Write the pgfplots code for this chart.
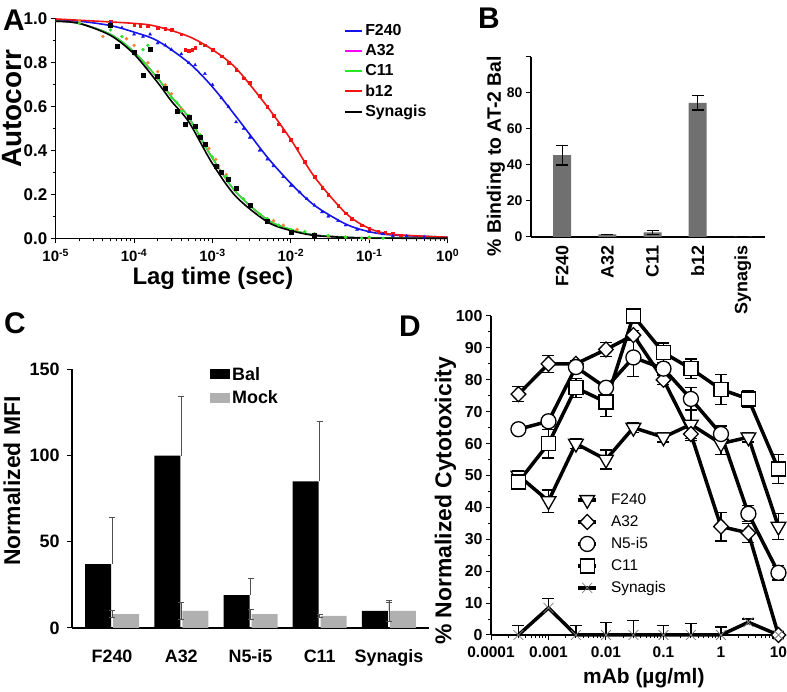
\documentclass[border=0pt]{standalone}
\usepackage{fontspec}
\setmainfont{Liberation Sans}
\usepackage{pgfplots}
\pgfplotsset{compat=1.18}
\definecolor{cblue}{RGB}{20,20,235}
\definecolor{cmag}{RGB}{255,0,255}
\definecolor{cgreen}{RGB}{40,230,40}
\definecolor{cred}{RGB}{240,20,20}
\definecolor{corange}{RGB}{245,130,50}
\definecolor{barB}{RGB}{112,112,112}
\definecolor{mock}{RGB}{176,176,176}
\definecolor{errC}{RGB}{80,80,80}
\newcommand{\fs}[1]{\fontsize{#1}{#1}\selectfont}
\pgfplotsset{
  panel/.style={scale only axis, anchor=south west, axis lines=left,
    axis line style={-, line width=1.3bp},
    tick align=outside, major tick length=5bp, minor tick length=3bp,
    every tick/.style={black, line width=1bp},
    /pgf/number format/assume math mode=true},
}
\begin{document}
\begin{tikzpicture}
\useasboundingbox (0,0) rectangle (787bp,692bp);
% ---------------- Panel A ----------------
\begin{axis}[panel, at={(55.7bp,453.7bp)}, width=392bp, height=219.3bp,
  xmode=log, xmin=1e-5, xmax=1, ymin=0, ymax=1, clip=false,
  xtick={1e-5,1e-4,1e-3,1e-2,1e-1,1},
  xticklabels={10\textsuperscript{-5},10\textsuperscript{-4},10\textsuperscript{-3},10\textsuperscript{-2},10\textsuperscript{-1},10\textsuperscript{0}},
  ytick={0,0.2,0.4,0.6,0.8,1}, yticklabels={0.0,0.2,0.4,0.6,0.8,1.0},
  minor ytick={0.1,0.3,0.5,0.7,0.9},
  x tick label style={font=\bfseries\fs{15}, yshift=-2bp},
  y tick label style={font=\bfseries\fs{17}},
  xlabel={Lag time (sec)}, ylabel={Autocorr},
  x label style={at={(axis description cs:0.401,-0.185)}, anchor=center, font=\bfseries\fs{24}},
  y label style={at={(axis description cs:-0.111,0.59)}, anchor=center, font=\bfseries\fs{28}},
  legend style={at={(rel axis cs:0.728,0.995)}, anchor=north west, draw=none, fill=none,
    font=\bfseries\fs{16}, row sep=3.5bp},
  legend cell align=left,
  legend image code/.code={\draw[#1, line width=2bp] (0bp,0bp) -- (17bp,0bp);},
]
% scatter data
\addplot[only marks, mark=square*, mark size=1.3bp, cred, forget plot] coordinates {
(5e-5,0.99)(1e-4,0.975)(1.2e-4,0.97)(1.5e-4,0.97)(2e-4,0.96)(2.5e-4,0.955)(3e-4,0.95)(4e-4,0.93)(4.5e-4,0.86)(5e-4,0.855)(5.5e-4,0.86)(6e-4,0.87)(7e-4,0.89)(8e-4,0.88)(1e-3,0.86)(1.3e-3,0.83)(1.6e-3,0.80)(2e-3,0.77)(2.5e-3,0.73)(3e-3,0.71)(4e-3,0.65)(5e-3,0.60)(6e-3,0.56)(7e-3,0.52)(8e-3,0.49)(1e-2,0.45)(1.2e-2,0.41)(1.5e-2,0.35)(2e-2,0.28)(2.5e-2,0.23)(3e-2,0.20)(4e-2,0.15)(5e-2,0.115)(6e-2,0.09)(8e-2,0.06)(1e-1,0.045)(1.3e-1,0.03)(1.6e-1,0.025)(2e-1,0.02)(2.5e-1,0.015)};
\addplot[only marks, mark=triangle*, mark size=1.8bp, cblue, forget plot] coordinates {
(5e-5,0.98)(7e-5,0.96)(1e-4,0.93)(1.3e-4,0.92)(1.6e-4,0.93)(2e-4,0.89)(2.5e-4,0.88)(3e-4,0.86)(4e-4,0.84)(5e-4,0.80)(6e-4,0.79)(8e-4,0.75)(1e-3,0.70)(1.3e-3,0.64)(1.6e-3,0.60)(2e-3,0.53)(2.5e-3,0.50)(3e-3,0.46)(4e-3,0.40)(5e-3,0.36)(6e-3,0.33)(8e-3,0.28)(1e-2,0.24)(1.3e-2,0.21)(1.6e-2,0.18)(2e-2,0.15)(2.5e-2,0.12)(3e-2,0.10)(4e-2,0.08)(5e-2,0.06)(7e-2,0.04)(1e-1,0.03)(1.5e-1,0.02)(2e-1,0.01)(3e-1,0.01)(5e-1,0.005)};
\addplot[only marks, mark=*, mark size=1.5bp, corange, forget plot] coordinates {
(2e-5,0.99)(4e-5,0.92)(8e-5,0.91)(1e-4,0.88)(1.5e-4,0.80)(2e-4,0.76)(2.5e-4,0.70)(3e-4,0.66)(4e-4,0.59)(5e-4,0.56)(7e-4,0.47)(9e-4,0.41)(1.1e-3,0.36)(1.5e-3,0.29)(2e-3,0.22)(3e-3,0.15)(4e-3,0.11)(6e-3,0.08)(8e-3,0.06)(1.2e-2,0.04)(2e-2,0.02)(3e-2,0.01)(5e-2,0.005)(1e-1,0.0)};
\addplot[only marks, mark=*, mark size=1.5bp, cgreen, forget plot] coordinates {
(2e-5,0.98)(5e-5,0.95)(7e-5,0.92)(1e-4,0.84)(1.3e-4,0.86)(1.5e-4,0.88)(2e-4,0.73)(2.5e-4,0.68)(3e-4,0.64)(3.5e-4,0.62)(4e-4,0.58)(5e-4,0.56)(6e-4,0.50)(7e-4,0.47)(8e-4,0.42)(1e-3,0.37)(1.2e-3,0.33)(1.5e-3,0.28)(2e-3,0.22)(2.5e-3,0.18)(3e-3,0.15)(4e-3,0.11)(5e-3,0.09)(7e-3,0.06)(1e-2,0.04)(1.5e-2,0.03)(2e-2,0.02)(3e-2,0.012)(5e-2,0.005)(8e-2,0.0)(1e-1,0.005)(1.5e-1,0.0)};
\addplot[only marks, mark=square*, mark size=2bp, black, forget plot] coordinates {
(5e-5,0.97)(6e-5,0.875)(1e-4,0.85)(1.3e-4,0.745)(1.6e-4,0.86)(2e-4,0.74)(2.5e-4,0.685)(3.5e-4,0.58)(4.5e-4,0.52)(5e-4,0.55)(6e-4,0.51)(7e-4,0.46)(8e-4,0.43)(1.1e-3,0.33)(1.3e-3,0.30)(1.6e-3,0.27)(2e-3,0.23)(3e-3,0.15)(5e-3,0.08)(1e-2,0.03)(2e-2,0.012)};
% fit lines
\addplot[cblue, line width=1.6bp, smooth] coordinates {
(1e-5,0.995)(2e-5,0.99)(5e-5,0.97)(1e-4,0.94)(2e-4,0.90)(5e-4,0.80)(1e-3,0.69)(2e-3,0.555)(5e-3,0.37)(1e-2,0.25)(2e-2,0.15)(5e-2,0.065)(1e-1,0.03)(2e-1,0.015)(1,0.005)};
\addlegendentry{F240}
\addplot[cmag, line width=1.6bp, smooth] coordinates {
(1e-5,0.99)(2e-5,0.98)(5e-5,0.93)(1e-4,0.85)(2e-4,0.73)(3e-4,0.645)(5e-4,0.55)(1e-3,0.365)(2e-3,0.21)(5e-3,0.085)(1e-2,0.04)(2e-2,0.015)(5e-2,0.005)(1e-1,0.002)(1,0)};
\addlegendentry{A32}
\addplot[cgreen, line width=1.6bp, smooth] coordinates {
(1e-5,0.99)(2e-5,0.98)(5e-5,0.93)(1e-4,0.85)(2e-4,0.73)(3e-4,0.645)(5e-4,0.55)(1e-3,0.365)(2e-3,0.21)(5e-3,0.085)(1e-2,0.04)(2e-2,0.015)(5e-2,0.005)(1e-1,0.002)(1,0)};
\addlegendentry{C11}
\addplot[cred, line width=1.6bp, smooth] coordinates {
(1e-5,1.0)(1e-4,0.98)(2e-4,0.965)(5e-4,0.92)(1e-3,0.86)(2e-3,0.775)(5e-3,0.60)(1e-2,0.45)(2e-2,0.28)(5e-2,0.115)(1e-1,0.045)(2e-1,0.018)(1,0.005)};
\addlegendentry{b12}
\addplot[black, line width=1.6bp, smooth] coordinates {
(1e-5,0.99)(2e-5,0.98)(5e-5,0.925)(1e-4,0.84)(2e-4,0.71)(3e-4,0.625)(5e-4,0.53)(1e-3,0.34)(2e-3,0.19)(5e-3,0.075)(1e-2,0.035)(2e-2,0.013)(5e-2,0.004)(1e-1,0.001)(1,0)};
\addlegendentry{Synagis}
\end{axis}
% ---------------- Panel B ----------------
\begin{axis}[panel, at={(531bp,455bp)}, width=234bp, height=180bp,
  xmin=-0.69, xmax=4.49, ymin=0, ymax=100, clip=false,
  ytick={0,20,40,60,80,100}, yticklabels={0,20,40,60,80,{}},
  xtick={0,1,2,3,4}, xticklabels={F240,A32,C11,b12,Synagis},
  major x tick style={draw=none},
  y tick label style={font=\bfseries\fs{14}},
  x tick label style={rotate=90, anchor=east, font=\bfseries\fs{18}},
  ylabel={\% Binding to AT-2 Bal},
  y label style={at={(axis description cs:-0.15,0.45)}, anchor=center, font=\bfseries\fs{19.5}},
]
\addplot[ybar, bar width=18bp, fill=barB, draw=none,
  error bars/.cd, y dir=both, y explicit,
  error bar style={line width=1.3bp, black},
  error mark options={rotate=90, mark size=6bp, line width=1.3bp, black}]
  coordinates {(0,45.5) +- (0,5.5) (1,1.5) +- (0,0) (2,2.5) +- (0,1) (3,74.5) +- (0,4) (4,0.2) +- (0,0)};
\end{axis}
% ---------------- Panel C ----------------
\begin{axis}[panel, at={(72bp,64bp)}, width=357bp, height=258.7bp,
  xmin=-0.578, xmax=4.578, ymin=0, ymax=150, clip=false,
  ytick={0,50,100,150},
  xtick={0,1,2,3,4}, xticklabels={F240,A32,N5-i5,C11,Synagis},
  major x tick style={draw=none},
  y tick label style={font=\bfseries\fs{18}, xshift=-4bp},
  x tick label style={font=\bfseries\fs{18}, yshift=-13bp},
  ylabel={Normalized MFI},
  y label style={at={(axis description cs:-0.168,0.568)}, anchor=center, font=\bfseries\fs{23}},
  legend style={at={(rel axis cs:0.378,1.025)}, anchor=north west, draw=none, fill=none,
    font=\bfseries\fs{18}, row sep=5bp},
  legend cell align=left,
  legend image code/.code={\fill[#1] (0bp,-5bp) rectangle (20bp,5bp);},
]
\addplot[ybar, bar width=26bp, bar shift=-14bp, fill=black, draw=none,
  error bars/.cd, y dir=plus, y explicit,
  error bar style={line width=0.8bp, errC},
  error mark options={rotate=90, mark size=3bp, line width=0.8bp, errC}]
  coordinates {(0,37) +- (0,27) (1,100) +- (0,34) (2,19) +- (0,10) (3,85) +- (0,35) (4,10) +- (0,5)};
\addlegendentry{Bal}
\addplot[ybar, bar width=26bp, bar shift=14bp, fill=mock, draw=none,
  error bars/.cd, y dir=both, y explicit,
  error bar style={line width=0.8bp, errC},
  error mark options={rotate=90, mark size=3bp, line width=0.8bp, errC}]
  coordinates {(0,8) +- (0,2) (1,10) +- (0,5) (2,8) +- (0,3) (3,7) +- (0,1) (4,10) +- (0,6)};
\addlegendentry{Mock}
\end{axis}
% ---------------- Panel D ----------------
\begin{axis}[panel, at={(491bp,57bp)}, width=294bp, height=319bp,
  xmode=log, xmin=1e-4, xmax=13, ymin=0, ymax=100, clip=false,
  xtick={1e-4,1e-3,1e-2,1e-1,1,10},
  xticklabels={0.0001,0.001,0.01,0.1,1,10},
  ytick={0,10,...,100}, minor ytick={5,15,...,95},
  x tick label style={font=\bfseries\fs{15.5}, yshift=-3bp},
  y tick label style={font=\bfseries\fs{16}},
  xlabel={mAb (µg/ml)}, ylabel={\% Normalized Cytotoxicity},
  x label style={at={(axis description cs:0.52,-0.135)}, anchor=center, font=\bfseries\fs{21}},
  y label style={at={(axis description cs:-0.155,0.42)}, anchor=center, font=\bfseries\fs{23}},
  legend style={at={(rel axis cs:0.28,0.456)}, anchor=north west, draw=none, fill=none,
    font=\fs{15.5}, row sep=5.5bp},
  legend cell align=left,
  legend image code/.code={\draw[mark repeat=2, mark phase=2, #1] plot coordinates {(0bp,0bp) (9bp,0bp) (18bp,0bp)}; \path (29bp,0bp);},
  every axis plot/.append style={black, line width=3.5bp,
    /pgfplots/error bars/y dir=both, /pgfplots/error bars/y explicit,
    /pgfplots/error bars/error bar style={line width=1.3bp, black},
    /pgfplots/error bars/error mark options={rotate=90, mark size=6bp, line width=1.3bp, black}},
]
\addplot[mark=triangle*, mark size=8.5bp, mark options={rotate=180, fill=white, line width=1.3bp}]
  table[x index=0, y index=1, y error index=2] {
0.0003 50 1.5
0.001 42 3.5
0.003 60 1.5
0.01 55 3
0.03 65 1.5
0.1 62 1.5
0.3 66 4.5
1 60 3.5
3 62 1.5
10 34 4
};
\addlegendentry{F240}
\addplot[mark=diamond*, mark size=7.5bp, mark options={xscale=1.3, fill=white, line width=1.3bp}]
  table[x index=0, y index=1, y error index=2] {
0.0003 75.5 2.3
0.001 85 2.7
0.003 85 1
0.01 89.5 2.3
0.03 94 1.5
0.1 80 1.5
0.3 63 2
1 34 4.5
3 32 3
10 0 1
};
\addlegendentry{A32}
\addplot[mark=*, mark size=7.5bp, mark options={fill=white, line width=1.3bp}]
  table[x index=0, y index=1, y error index=2] {
0.0003 64.5 1
0.001 67 1.5
0.003 84 1.5
0.01 77.5 1
0.03 87 6
0.1 83.5 2
0.3 74 3.5
1 63 2.5
3 38 2.5
10 19.5 2.3
};
\addlegendentry{N5-i5}
\addplot[mark=square*, mark size=7bp, mark options={fill=white, line width=1.3bp}]
  table[x index=0, y index=1, y error index=2] {
0.0003 48 1
0.001 60 4.5
0.003 77.5 3
0.01 73 4.5
0.03 100 1
0.1 88.5 3
0.3 83.5 3
1 77 4.7
3 74 2.5
10 52 4.5
};
\addlegendentry{C11}
\addplot[mark=x, mark size=7bp, mark options={gray, line width=0.8bp},
  /pgfplots/error bars/y dir=plus]
  table[x index=0, y index=1, y error index=2] {
0.0003 0 3
0.001 8.5 3
0.003 0 3
0.01 0 4
0.03 0 4.5
0.1 0 3
0.3 0 3.5
1 0 2.5
3 4 1
10 0 1
};
\addlegendentry{Synagis}
\end{axis}
% ---------------- Panel letters ----------------
\node[font=\bfseries\fs{30}] at (14bp,672bp) {A};
\node[font=\bfseries\fs{30}] at (489bp,674bp) {B};
\node[font=\bfseries\fs{30}] at (15bp,369bp) {C};
\node[font=\bfseries\fs{30}] at (410bp,366bp) {D};
\end{tikzpicture}
\end{document}
